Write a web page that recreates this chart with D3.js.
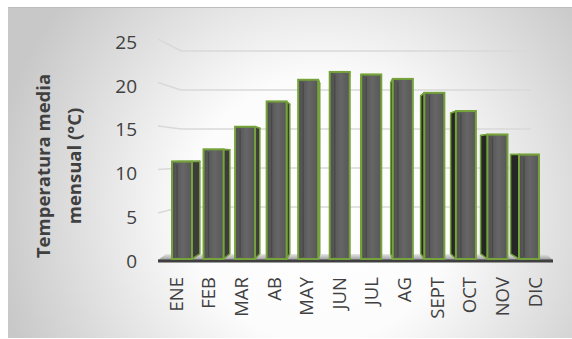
<!DOCTYPE html>
<html>
<head>
<meta charset="utf-8">
<script src="https://cdn.jsdelivr.net/npm/d3@7"></script>
<style>
  body { margin: 0; background: #fff; }
  svg { display: block; }
</style>
</head>
<body>
<svg id="chart" width="572" height="339"></svg>
<script>
const months = ["ENE", "FEB", "MAR", "AB", "MAY", "JUN", "JUL", "AG", "SEPT", "OCT", "NOV", "DIC"];
const temps = [11.2, 12.6, 15.2, 18.1, 20.6, 21.5, 21.2, 20.7, 19.1, 17.0, 14.3, 12.0];
const yTicks = [0, 5, 10, 15, 20, 25];
const titleLines = ["Temperatura media", "mensual (°C)"];

const svg = d3.select("#chart");
const defs = svg.append("defs");

// background radial gradient
const bg = defs.append("radialGradient")
  .attr("id", "bgGrad")
  .attr("gradientUnits", "userSpaceOnUse")
  .attr("cx", 320).attr("cy", 210).attr("r", 330);
bg.append("stop").attr("offset", "0%").attr("stop-color", "#ffffff");
bg.append("stop").attr("offset", "40%").attr("stop-color", "#fcfcfc");
bg.append("stop").attr("offset", "100%").attr("stop-color", "#c8c8c8");

const faceGrad = defs.append("linearGradient")
  .attr("id", "faceGrad").attr("x1", "0").attr("x2", "1").attr("y1", "0").attr("y2", "0");
faceGrad.append("stop").attr("offset", "0%").attr("stop-color", "#4e4e4e");
faceGrad.append("stop").attr("offset", "55%").attr("stop-color", "#666666");
faceGrad.append("stop").attr("offset", "100%").attr("stop-color", "#575757");

const floorGrad = defs.append("linearGradient")
  .attr("id", "floorGrad").attr("x1", "0").attr("x2", "0").attr("y1", "0").attr("y2", "1");
floorGrad.append("stop").attr("offset", "0%").attr("stop-color", "#e6e6e6");
floorGrad.append("stop").attr("offset", "100%").attr("stop-color", "#9a9a9a");

svg.append("rect")
  .attr("x", 8).attr("y", 7).attr("width", 564).attr("height", 331)
  .attr("fill", "url(#bgGrad)");
svg.append("line")
  .attr("x1", 8).attr("x2", 572).attr("y1", 7.5).attr("y2", 7.5)
  .attr("stroke", "#bdbdbd").attr("stroke-width", 1);

// scales
const yLabel = d3.scaleLinear().domain([0, 25]).range([261, 42]);
const yBar = d3.scaleLinear().domain([0, 25]).range([259, 41.5]);
const yWallFront = d3.scaleLinear().domain([0, 25]).range([256.5, 39]);
const yWallBack = d3.scaleLinear().domain([0, 25]).range([246, 51]);
const xBar = d3.scaleLinear().domain([0, 11]).range([172, 519]);
const xLab = d3.scaleLinear().domain([0, 11]).range([176, 535]);
const barW = 20;
const vp = [350, 155];
const depth = 0.05;

// gridlines on the back wall
const grid = svg.append("g");
yTicks.filter(d => d > 0).forEach(v => {
  grid.append("polyline")
    .attr("points", `158,${yWallFront(v)} 181,${yWallBack(v)} 531,${yWallBack(v)}`)
    .attr("fill", "none")
    .attr("stroke", "#d9d9d9")
    .attr("stroke-width", 1.6);
});

// floor
svg.append("polygon")
  .attr("points", "166,254 546,254 553,260 158,260")
  .attr("fill", "url(#floorGrad)");
svg.append("line")
  .attr("x1", 158).attr("x2", 553).attr("y1", 261).attr("y2", 261)
  .attr("stroke", "#3f3f3f").attr("stroke-width", 3);

// y tick labels
svg.append("g").selectAll("text")
  .data(yTicks)
  .join("text")
  .attr("x", 137)
  .attr("y", d => yLabel(d))
  .attr("dy", "0.36em")
  .attr("text-anchor", "end")
  .attr("font-family", "'Open Sans', sans-serif")
  .attr("font-size", 19)
  .attr("fill", "#404040")
  .text(d => d);

// axis title
svg.append("g").selectAll("text")
  .data(titleLines)
  .join("text")
  .attr("transform", (d, i) => `translate(${43 + i * 31},166) rotate(-90)`)
  .attr("dy", "0.36em")
  .attr("text-anchor", "middle")
  .attr("font-family", "'Open Sans', sans-serif")
  .attr("font-weight", "bold")
  .attr("font-size", 18.5)
  .attr("fill", "#404040")
  .text(d => d);

// bars
function back(p) {
  return [p[0] + depth * (vp[0] - p[0]), p[1] + depth * (vp[1] - p[1])];
}
const green = "#75a23a";
const bars = svg.append("g");
temps.forEach((v, i) => {
  const x0 = xBar(i), x1 = x0 + barW;
  const yt = yBar(v), yb = yBar(0);
  const g = bars.append("g");
  // top face
  const tl = [x0, yt], tr = [x1, yt];
  g.append("polygon")
    .attr("points", [tl, tr, back(tr), back(tl)].map(p => p.join(",")).join(" "))
    .attr("fill", "#5a5a5a").attr("stroke", green).attr("stroke-width", 1.5)
    .attr("stroke-linejoin", "round");
  // side face
  const sx = (x1 < vp[0]) ? x1 : x0;
  if (Math.abs(sx - vp[0]) > 8) {
    const a = [sx, yt], b = [sx, yb];
    g.append("polygon")
      .attr("points", [a, back(a), back(b), b].map(p => p.join(",")).join(" "))
      .attr("fill", x1 < vp[0] ? "#3c3c3c" : "#262626")
      .attr("stroke", green).attr("stroke-width", 1.5)
      .attr("stroke-linejoin", "round");
  }
  // front face
  g.append("rect")
    .attr("x", x0).attr("y", yt)
    .attr("width", barW).attr("height", yb - yt)
    .attr("fill", "url(#faceGrad)")
    .attr("stroke", green).attr("stroke-width", 2);
  g.append("line")
    .attr("x1", x0 + 5).attr("x2", x0 + 5)
    .attr("y1", yt + 3).attr("y2", yb - 2)
    .attr("stroke", "#474747").attr("stroke-width", 1.2);
});

// category labels
svg.append("g").selectAll("text")
  .data(months)
  .join("text")
  .attr("transform", (d, i) => `translate(${xLab(i)},277) rotate(-90)`)
  .attr("dy", "0.36em")
  .attr("text-anchor", "end")
  .attr("font-family", "'Open Sans', sans-serif")
  .attr("font-size", 18.5)
  .attr("fill", "#404040")
  .text(d => d);
</script>
</body>
</html>
